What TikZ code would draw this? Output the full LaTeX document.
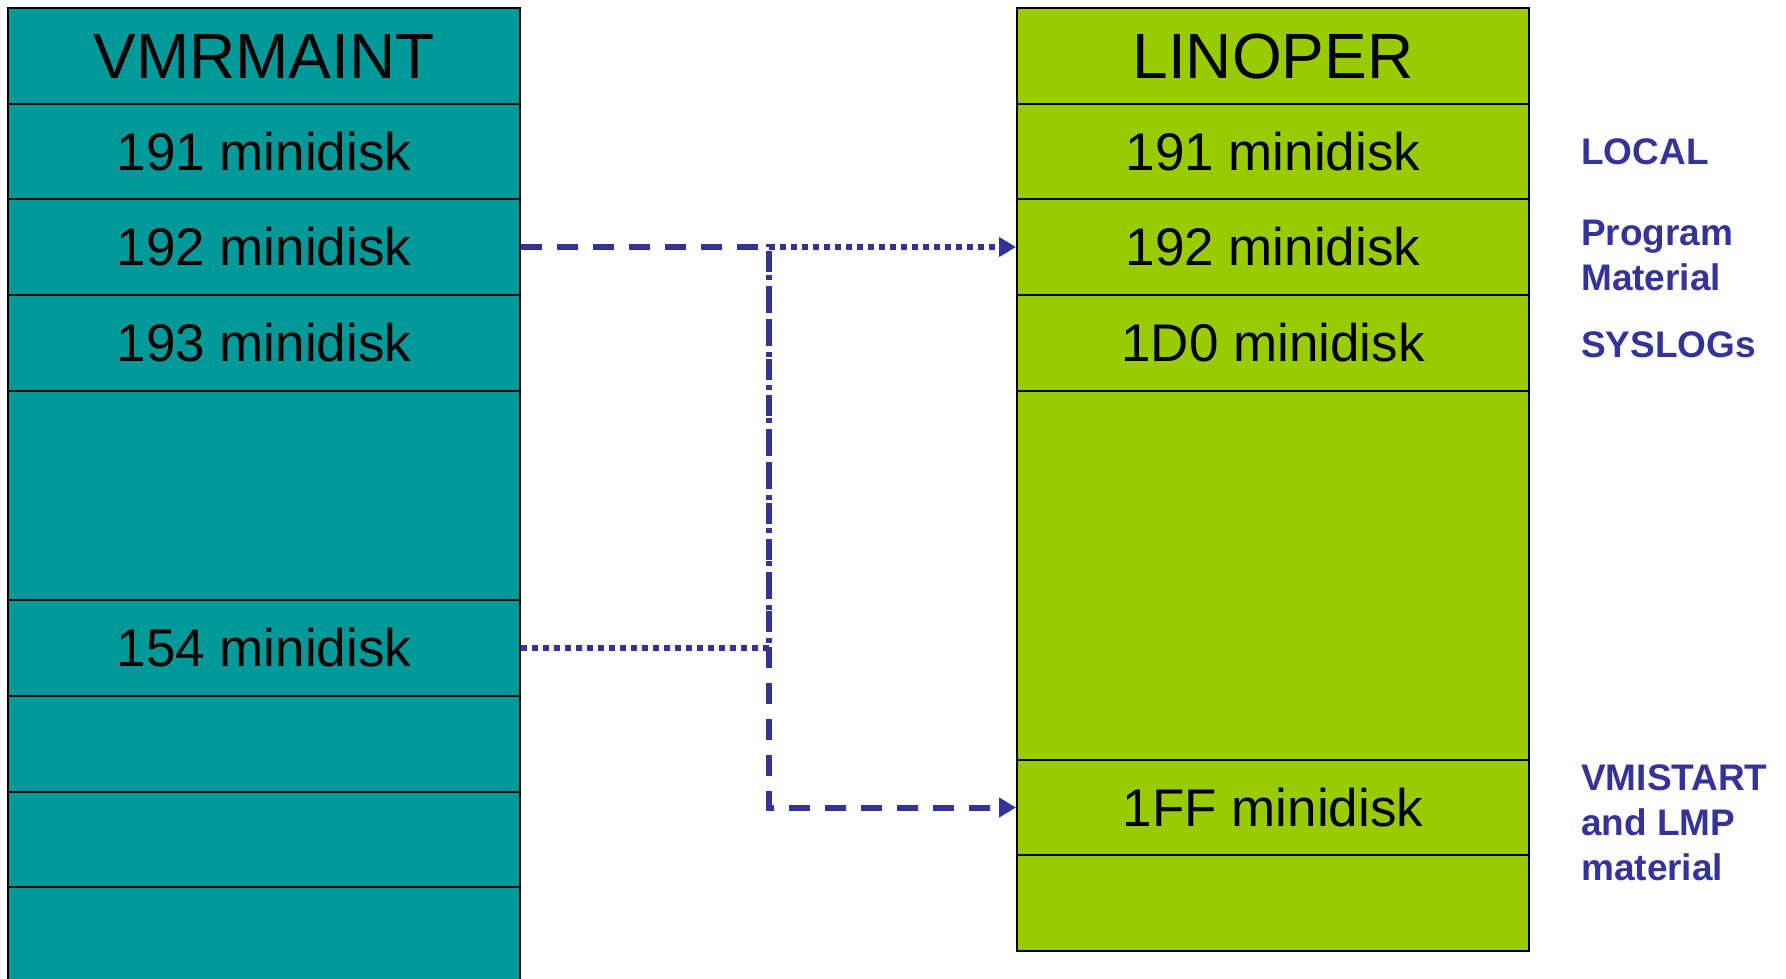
\documentclass[tikz,border=0pt]{standalone}
\usepackage{fontspec}
\setmainfont{Liberation Sans}
\usetikzlibrary{arrows.meta}
\definecolor{tealbox}{HTML}{009999}
\definecolor{greenbox}{HTML}{99CC00}
\definecolor{linkblue}{HTML}{333399}
\begin{document}
\begin{tikzpicture}[x=1pt,y=-1pt,
  cell/.style={draw=black,line width=2pt,minimum width=512pt,inner sep=0pt,
    font=\fontsize{53}{60}\selectfont},
  lcell/.style={cell,fill=tealbox},
  rcell/.style={cell,fill=greenbox},
  headcell/.style={font=\fontsize{64}{70}\selectfont},
  note/.style={anchor=west,text=linkblue,align=left,inner sep=0pt,
    font=\fontsize{37}{45}\selectfont\bfseries},
  link/.style={draw=linkblue,line width=6pt},
  dashlink/.style={link,dash pattern=on 21pt off 15pt},
  dotlink/.style={link,dash pattern=on 5.5pt off 5.5pt},
  tip/.style={-{Triangle[length=17pt,width=19pt]}}
]
\useasboundingbox (0,0) rectangle (1786,979);
\begin{scope}
\clip (0,0) rectangle (1786,979);
% left column
\node[lcell,headcell,minimum height=96pt] (lhead) at (264,56) {VMRMAINT};
\node[lcell,minimum height=95.5pt] (l191) at (264,151.5) {191 minidisk};
\node[lcell,minimum height=96pt] (l192) at (264,247) {192 minidisk};
\node[lcell,minimum height=96pt] (l193) at (264,343) {193 minidisk};
\node[lcell,minimum height=209pt] (lempty1) at (264,495.5) {};
\node[lcell,minimum height=96pt] (l154) at (264,648) {154 minidisk};
\node[lcell,minimum height=96pt] (lempty2) at (264,744) {};
\node[lcell,minimum height=95pt] (lempty3) at (264,839.5) {};
\node[lcell,minimum height=110pt] (lempty4) at (264,942) {};
\end{scope}
% right column
\node[rcell,headcell,minimum height=96pt] (rhead) at (1273,56) {LINOPER};
\node[rcell,minimum height=95.5pt] (r191) at (1273,151.5) {191 minidisk};
\node[rcell,minimum height=96pt] (r192) at (1273,247) {192 minidisk};
\node[rcell,minimum height=96pt] (r1D0) at (1273,343) {1D0 minidisk};
\node[rcell,minimum height=369pt] (rempty1) at (1273,575.5) {};
\node[rcell,minimum height=95.5pt] (r1FF) at (1273,807.5) {1FF minidisk};
\node[rcell,minimum height=96pt] (rempty2) at (1273,903) {};
% notes
\node[note] (nlocal) at (1581,152) {LOCAL};
\node[note] (nprog) at (1581,255.5) {Program\\Material};
\node[note] (nsys) at (1581,345) {SYSLOGs};
\node[note] (nvmi) at (1581,822.5) {VMISTART\\and LMP\\material};
% connectors
\coordinate (jtop) at (769,247);
\coordinate (jbot) at (769,807.5);
\coordinate (jmid) at (769,648);
\draw[dashlink,tip] (l192.east) -- (jtop) -- (jbot) -- (r1FF.west);
\draw[dotlink,tip] (l154.east) -- (jmid) -- (jtop) -- (r192.west);
\end{tikzpicture}
\end{document}
